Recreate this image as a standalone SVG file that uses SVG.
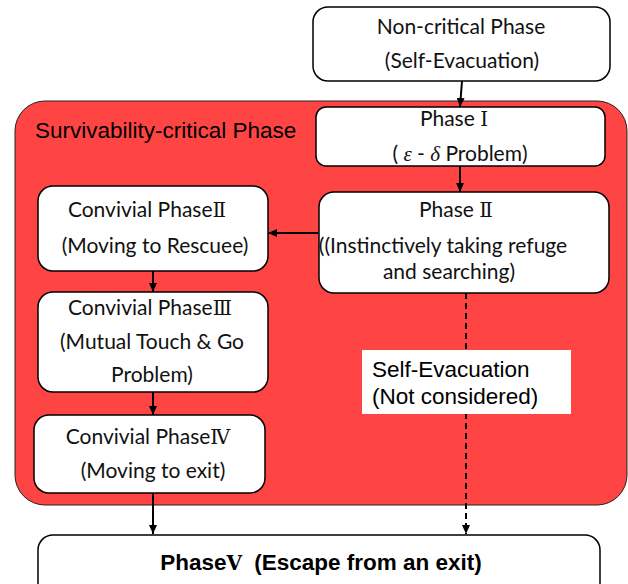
<svg xmlns="http://www.w3.org/2000/svg" width="628" height="584" viewBox="0 0 628 584">
<defs>
<style>
.node rect{fill:#fff;stroke:#000;stroke-width:1.5}
.t{font-family:Lato,"Noto Sans",sans-serif;font-size:21px;fill:#111;text-anchor:middle}
.a{font-family:"Liberation Sans",Arial,sans-serif;font-size:22.5px;fill:#000}
.rn{font-family:"DejaVu Serif","Liberation Serif",serif;font-size:20px}
.gr{font-family:"Liberation Serif",serif;font-style:italic}
.conn line,.conn path{stroke:#000;stroke-width:2;fill:none}
</style>
<marker id="ah" markerWidth="10" markerHeight="10" refX="9" refY="5" orient="auto" markerUnits="userSpaceOnUse">
<path d="M0,1 L9,5 L0,9 Z" fill="#000"/>
</marker>
</defs>
<rect width="628" height="584" fill="#fff"/>
<g id="survivability-critical">
<rect x="15" y="101" width="612" height="404" rx="30" ry="30" fill="#FF4444" stroke="#222" stroke-width="1"/>
<text class="a" x="35" y="138">Survivability-critical Phase</text>
</g>
<g id="non-critical" class="node">
<rect x="313" y="7" width="297" height="74" rx="15"/>
<text class="t" x="461" y="34">Non-critical Phase</text>
<text class="t" x="462" y="68">(Self-Evacuation)</text>
</g>
<g id="phase1" class="node">
<rect x="316" y="107" width="289" height="59" rx="10"/>
<text class="t" x="454" y="126">Phase <tspan class="rn">Ⅰ</tspan></text>
<text class="t" x="460" y="161">( <tspan class="gr">ε</tspan> - <tspan class="gr">δ</tspan> Problem)</text>
</g>
<g id="phase2" class="node">
<rect x="319" y="192" width="290" height="101" rx="15"/>
<text class="t" x="456" y="217">Phase <tspan class="rn">Ⅱ</tspan></text>
<text class="t" x="443" y="253">((Instinctively taking refuge</text>
<text class="t" x="449" y="279">and searching)</text>
</g>
<g id="conv2" class="node">
<rect x="38" y="186" width="230" height="85" rx="15"/>
<text class="t" x="147" y="217">Convivial Phase<tspan class="rn">Ⅱ</tspan></text>
<text class="t" x="155" y="253">(Moving to Rescuee)</text>
</g>
<g id="conv3" class="node">
<rect x="38" y="292" width="230" height="100" rx="15"/>
<text class="t" x="150" y="315">Convivial Phase<tspan class="rn">Ⅲ</tspan></text>
<text class="t" x="152" y="349">(Mutual Touch &amp; Go</text>
<text class="t" x="152" y="382">Problem)</text>
</g>
<g id="conv4" class="node">
<rect x="34" y="415" width="231" height="78" rx="15"/>
<text class="t" x="148" y="444">Convivial Phase<tspan class="rn">Ⅳ</tspan></text>
<text class="t" x="153" y="478">(Moving to exit)</text>
</g>
<g id="phase5" class="node">
<rect x="38" y="535" width="562" height="70" rx="15"/>
<text class="a" x="321" y="570" text-anchor="middle" font-weight="bold" font-size="21">Phase<tspan class="rn" font-size="22">Ⅴ</tspan><tspan dx="6"> (Escape from an exit)</tspan></text>
</g>
<g id="connectors" class="conn">
<line x1="462" y1="81" x2="460" y2="107" marker-end="url(#ah)"/>
<line x1="460" y1="166" x2="460" y2="192" marker-end="url(#ah)"/>
<line x1="318" y1="233" x2="268" y2="233" marker-end="url(#ah)"/>
<line x1="153" y1="271" x2="153" y2="292" marker-end="url(#ah)"/>
<line x1="153" y1="392" x2="153" y2="415" marker-end="url(#ah)"/>
<line x1="153" y1="493" x2="153" y2="534" marker-end="url(#ah)"/>
<line x1="466" y1="293" x2="466" y2="534" stroke-dasharray="6,4" marker-end="url(#ah)"/>
</g>
<g id="self-evac-label">
<rect x="362" y="350" width="209" height="64" fill="#fff"/>
<text class="a" x="372" y="377" font-size="21">Self-Evacuation</text>
<text class="a" x="372" y="404" font-size="21">(Not considered)</text>
</g>
</svg>
